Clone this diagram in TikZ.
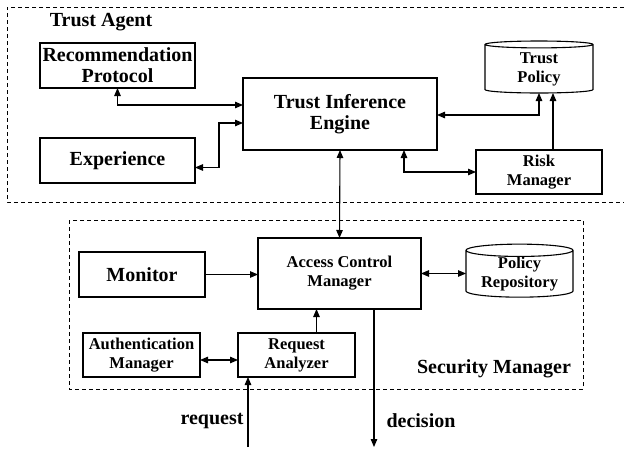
\documentclass[tikz,border=0pt]{standalone}
\usepackage{fontspec}
\setmainfont{Liberation Serif}
\usetikzlibrary{arrows.meta,shapes.geometric}

\begin{document}
\begin{tikzpicture}[x=1pt,y=-1pt,inner sep=0pt,outer sep=0pt,
    >={Triangle[length=8pt,width=6.5pt]},
    box/.style={draw,line width=1.1pt,anchor=north west,align=center,
        font=\bfseries\fontsize{20}{21}\selectfont},
    smallbox/.style={box,font=\bfseries\fontsize{16.5}{19}\selectfont},
    store/.style={draw,line width=1.1pt,cylinder,shape border rotate=90,aspect=0.16,
        align=center,font=\bfseries\fontsize{16.5}{19}\selectfont},
    group/.style={line width=0.8pt,dash pattern=on 4pt off 3pt},
    link/.style={line width=1.1pt},
    lbl/.style={font=\bfseries\fontsize{20}{21}\selectfont}]
    \useasboundingbox (0,0) rectangle (624,450);

    % trust agent
    \draw[group] (624,7) -- (7,7) -- (7,202) -- (624,202);
    \node[lbl] (agent_lbl) at (101,22) {Trust Agent};

    \node[box,minimum width=155,minimum height=45] (rec) at (40,43)
    {Recommendation\\Protocol};
    \node[box,minimum width=155,minimum height=45] (exp) at (40,138) {Experience};
    \node[box,minimum width=194,minimum height=72] (tie) at (243,78)
    {Trust Inference\\Engine};
    \node[store,minimum width=108,minimum height=52] (tpolicy) at (539,69)
    {Trust\\Policy};
    \node[smallbox,minimum width=126,minimum height=44] (risk) at (476,150)
    {Risk\\Manager};

    \draw[link,<->] (rec.south) |- ([yshift=9pt]tie.west);
    \draw[link,<->] ([yshift=-7pt]exp.east) -- ++(24,0) |- ([yshift=-9pt]tie.west);
    \draw[link,<->] ([yshift=-1pt]tie.east) -| (tpolicy.south);
    \draw[link,->] ([xshift=14pt]risk.north) -- ([xshift=14pt]risk.north |- tpolicy.south);
    \draw[link,<->] ([xshift=64pt]tie.south) |- (risk.west);

    % security manager
    \draw[group] (69,220) rectangle (583,389);
    \node[lbl] (sec_lbl) at (494,369) {Security Manager};

    \node[box,minimum width=126,minimum height=45] (monitor) at (79,252) {Monitor};
    \node[smallbox,minimum width=163,minimum height=71] (acm) at (258,238)
    {Access Control\\Manager};
    \node[store,minimum width=107,minimum height=52] (prepo) at (519.5,274)
    {Policy\\Repository};
    \node[smallbox,minimum width=117,minimum height=44] (auth) at (83,333)
    {Authentication\\Manager};
    \node[smallbox,minimum width=117,minimum height=44] (ra) at (238,333)
    {Request\\Analyzer};

    \draw[link,<->] (tie.south) -- (acm.north);
    \draw[link,->] (monitor.east) -- (monitor.east -| acm.west);
    \draw[link,<->] (acm.east) -- (acm.east -| prepo.west);
    \draw[link,->] ([xshift=20pt]ra.north) -- ([xshift=20pt]ra.north |- acm.south);
    \draw[link,<->] ([yshift=-5pt]auth.east) -- ([yshift=-5pt]auth.east -| ra.west);

    % request in, decision out
    \coordinate (req_in) at (248,447);
    \coordinate (dec_out) at (374,447);
    \draw[link,->] (req_in) -- (req_in |- ra.south);
    \draw[link,->] (dec_out |- acm.south) -- (dec_out);
    \node[lbl] (req_lbl) at (212,421) {request};
    \node[lbl] (dec_lbl) at (421,421) {decision};

\end{tikzpicture}
\end{document}
